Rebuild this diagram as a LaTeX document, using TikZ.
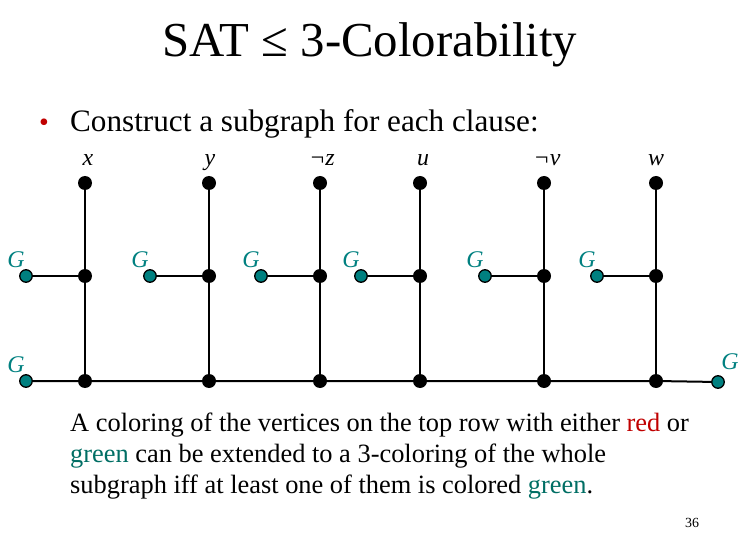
\documentclass[tikz,border=0pt]{standalone}
\usepackage{fontspec}
\setmainfont{Liberation Serif}
\definecolor{tealG}{RGB}{0,128,128}
\definecolor{greentxt}{RGB}{0,110,100}
\definecolor{redtxt}{RGB}{192,0,0}
\tikzset{
  bdot/.style={circle,fill=black,inner sep=0pt,minimum size=14bp},
  gdot/.style={circle,fill=tealG,draw=black,line width=1.3bp,inner sep=0pt,minimum size=12.5bp},
  edge/.style={line width=2bp},
  vlab/.style={anchor=base,font=\fontsize{24}{24}\selectfont\itshape,inner sep=0pt},
  glab/.style={font=\fontsize{24}{24}\selectfont\itshape,text=tealG,inner sep=0pt},
  para/.style={anchor=base west,font=\fontsize{26.5}{31}\selectfont,inner sep=0pt}
}
\begin{document}
\begin{tikzpicture}[x=1bp,y=-1bp]
\useasboundingbox (0,0) rectangle (752,534);
% title
\node[anchor=base,font=\fontsize{49}{49}\selectfont,inner sep=0pt] (title) at (370,57) {SAT ≤ 3-Colorability};
\node[anchor=base,text=redtxt,font=\fontsize{28}{28}\selectfont,inner sep=0pt] (bul) at (44,132) {•};
\node[anchor=base west,font=\fontsize{31.3}{31}\selectfont,inner sep=0pt] (sub) at (70,132) {Construct a subgraph for each clause:};
% columns
\foreach \i/\x in {1/85,2/209,3/320,4/420,5/544,6/656}{
  \node[bdot] (t\i) at (\x,183) {};
  \node[bdot] (m\i) at (\x,276) {};
  \node[bdot] (b\i) at (\x,381) {};
}
\foreach \i/\x in {1/26,2/150,3/261,4/361,5/485,6/597}{
  \node[gdot] (g\i) at (\x,276) {};
}
\node[gdot] (gl) at (26,381) {};
\node[gdot] (gr) at (718,382) {};
% edges
\foreach \i in {1,...,6}{
  \draw[edge] (t\i) -- (m\i) -- (b\i);
  \draw[edge] (g\i) -- (m\i);
}
\draw[edge] (gl) -- (b1) -- (b2) -- (b3) -- (b4) -- (b5) -- (b6) -- (gr);
% variable labels
\node[vlab] (lx) at (88,166) {x};
\node[vlab] (ly) at (210,166) {y};
\node[vlab] (lz) at (322,166) {¬z};
\node[vlab] (lu) at (423,166) {u};
\node[vlab] (lv) at (547,166) {¬v};
\node[vlab] (lw) at (656,166) {w};
% G labels
\foreach \i in {1,...,6}{
  \node[glab] (G\i) at ([shift={(-10,-16)}]g\i.center) {G};
}
\node[glab] (Gl) at ([shift={(-10,-16)}]gl.center) {G};
\node[glab] (Gr) at ([shift={(12,-20)}]gr.center) {G};
% text
\node[para] (p1) at (70,431) {A coloring of the vertices on the top row with either \textcolor{redtxt}{red} or};
\node[para] (p2) at (70,462) {\textcolor{greentxt}{green} can be extended to a 3-coloring of the whole};
\node[para] (p3) at (70,493) {subgraph iff at least one of them is colored \textcolor{greentxt}{green}.};
\node[anchor=base,font=\fontsize{14}{14}\selectfont,inner sep=0pt] (pg) at (692,527) {36};
\end{tikzpicture}
\end{document}
